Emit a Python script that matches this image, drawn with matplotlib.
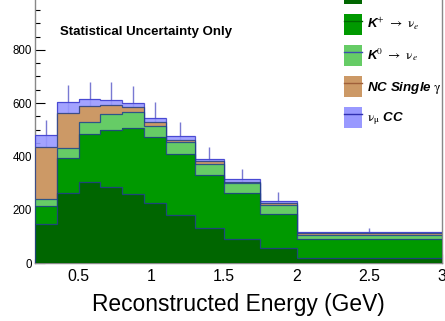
import numpy as np
import matplotlib
matplotlib.use("Agg")
from matplotlib import pyplot as plt
from matplotlib.patches import Patch
from matplotlib.lines import Line2D
from matplotlib.ticker import MultipleLocator

plt.rcParams['font.family'] = ['Liberation Sans', 'DejaVu Sans']
plt.rcParams['mathtext.fontset'] = 'stix'

# bin edges (GeV)
edges = [0.2, 0.35, 0.5, 0.65, 0.8, 0.95, 1.1, 1.3, 1.5, 1.75, 2.0, 3.0]

# cumulative stack tops, bottom layer first
pi_top = [146, 261, 304, 286, 259, 225, 180, 131, 91, 56, 19]
kplus_top = [214, 393, 484, 499, 505, 472, 410, 331, 262, 185, 90]
kzero_top = [239, 431, 528, 559, 565, 516, 454, 372, 299, 219, 106]
ncgamma_top = [436, 562, 588, 592, 585, 531, 462, 381, 305, 225, 111]
numucc_top = [479, 603, 614, 612, 599, 544, 475, 392, 315, 232, 117]
stat_err = [58, 66, 67, 66, 65, 62, 54, 43, 37, 33, 13]

labels = [r'$\pi^{+}$ $\rightarrow$ $\mathrm{\nu}_{e}$',
          r'K$^{+}$ $\rightarrow$ $\mathrm{\nu}_{e}$',
          r'K$^{0}$ $\rightarrow$ $\mathrm{\nu}_{e}$',
          r'NC Single $\mathrm{\gamma}$',
          r'$\mathrm{\nu}_{\mathrm{\mu}}$ CC']
fills = ['#006600', '#009900', '#66cc66', '#cc9966', '#9999ff']
lines = ['#23408e', '#006600', '#3b4fb0', '#a0603a', '#3030b0']

fig = plt.figure(figsize=(4.45, 3.21), dpi=100)
ax = fig.add_axes([35 / 445, 1 - 263 / 321, 407 / 445, 263 / 321])

tops = [pi_top, kplus_top, kzero_top, ncgamma_top, numucc_top]
centers = [(a + b) / 2 for a, b in zip(edges[:-1], edges[1:])]

# error bars go under the fills, like the original
ax.errorbar(centers, numucc_top, yerr=stat_err, fmt='none', ecolor='#4040c0',
            elinewidth=1, alpha=0.7, zorder=1)

# draw the stack from top layer down so lower layers cover upper ones
for i in range(len(tops) - 1, -1, -1):
    alpha = 0.9 if i == len(tops) - 1 else 1.0
    ax.stairs(tops[i], edges, baseline=0, fill=True, facecolor=fills[i],
              edgecolor='none', alpha=alpha, zorder=2 + (5 - i))
    ax.stairs(tops[i], edges, baseline=0, fill=False, color='#23408e' if i < 4 else '#3a3acc',
              lw=0.9, alpha=0.85, zorder=2 + (5 - i))

ax.set_xlim(0.2, 3.0)
ax.set_ylim(0, 987)

ax.xaxis.set_minor_locator(MultipleLocator(0.1))
ax.yaxis.set_major_locator(MultipleLocator(200))
ax.yaxis.set_minor_locator(MultipleLocator(50))
ax.set_xticks([0.5, 1, 1.5, 2, 2.5, 3])
ax.set_xticklabels(['0.5', '1', '1.5', '2', '2.5', '3'])

ax.tick_params(axis='both', which='both', direction='in', colors='black', width=0.8)
ax.tick_params(axis='y', which='major', length=7, labelsize=8.3, pad=2)
ax.tick_params(axis='y', which='minor', length=3.5)
ax.tick_params(axis='x', which='major', length=6.5, labelsize=11.4, pad=4.5)
ax.tick_params(axis='x', which='minor', length=3)
ax.tick_params(top=False, right=False, which='both')
for s in ['left', 'bottom', 'right']:
    ax.spines[s].set_color('#888888')
    ax.spines[s].set_linewidth(1)
ax.spines['top'].set_visible(False)

ax.set_xlabel('Reconstructed Energy (GeV)', fontsize=16.4, labelpad=6)

fig.text(60 / 445, 1 - 34.5 / 321, 'Statistical Uncertainty Only', fontsize=9.5,
         fontweight='bold', va='baseline', ha='left')

handles = [(Patch(facecolor=f, edgecolor='none'), Line2D([], [], color=l, lw=1))
           for f, l in zip(fills, lines)]
leg = fig.legend(handles, labels, loc='upper left', bbox_to_anchor=(344 / 445, 1 + 17 / 321),
                 bbox_transform=fig.transFigure, frameon=False, borderpad=0,
                 borderaxespad=0, handlelength=1.35, handleheight=2.04,
                 handletextpad=0.35, labelspacing=0.75,
                 prop={'size': 9.6, 'weight': 'bold', 'style': 'italic'})

fig.savefig('out.png', dpi=100)
